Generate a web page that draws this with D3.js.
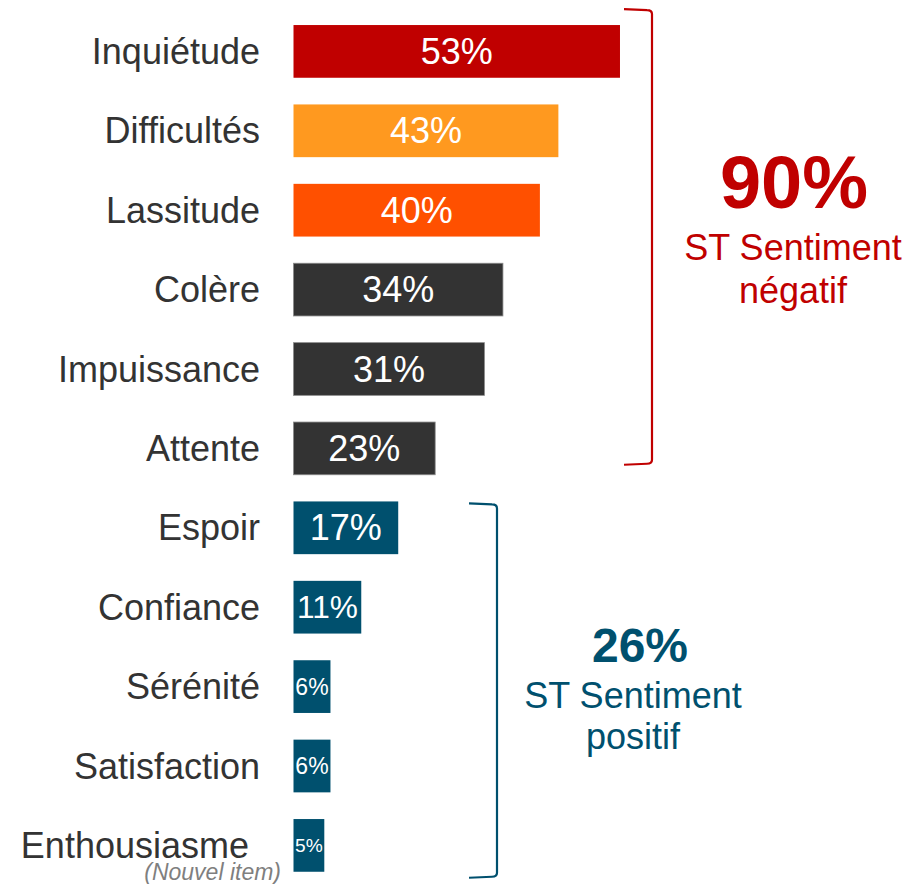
<!DOCTYPE html>
<html>
<head>
<meta charset="utf-8">
<script src="https://cdn.jsdelivr.net/npm/d3@7"></script>
<style>
    body { margin: 0; background: #fff; }
    svg { display: block; font-family: "Liberation Sans", Arial, sans-serif; }
</style>
</head>
<body>
<svg id="chart"></svg>
<script>
// data
const categories = ["Inquiétude", "Difficultés", "Lassitude", "Colère", "Impuissance", "Attente",
    "Espoir", "Confiance", "Sérénité", "Satisfaction", "Enthousiasme"];
const values = [53, 43, 40, 34, 31, 23, 17, 11, 6, 6, 5];
const notes = ["", "", "", "", "", "", "", "", "", "", "(Nouvel item)"];

const groupTotals = ["90%", "26%"];
const groupTitles = [["ST Sentiment", "négatif"], ["ST Sentiment", "positif"]];
const groupFirst = ["Inquiétude", "Espoir"];
const groupLast = ["Attente", "Enthousiasme"];

// styles
const barColors = ["#C00000", "#FF991F", "#FF5000", "#333333", "#333333", "#333333",
    "#00506E", "#00506E", "#00506E", "#00506E", "#00506E"];
const groupColors = ["#C00000", "#00506E"];

const width = 912, height = 884;

let svg = d3.select("#chart")
    .attr("width", width)
    .attr("height", height);

let x = d3.scaleLinear()
    .domain([0, 100])
    .range([293.5, 293.5 + 616]);

let y = d3.scaleBand()
    .domain(categories)
    .range([11.7, 11.7 + 11 * 79.4])
    .paddingInner(0.336)
    .paddingOuter(0.168);

let color = d3.scaleOrdinal().domain(categories).range(barColors);

// bars
svg.append("g")
    .selectAll("rect")
    .data(categories)
    .join("rect")
    .attr("x", x(0))
    .attr("y", d => y(d))
    .attr("width", (d, i) => x(values[i]) - x(0))
    .attr("height", y.bandwidth())
    .attr("fill", d => color(d))
    .attr("stroke", d => color(d) === "#333333" ? "#8a8a8a" : "none")
    .attr("stroke-width", 0.8);

// value labels, shrunk to fit small bars
let vals = svg.append("g")
    .selectAll("text")
    .data(categories)
    .join("text")
    .attr("x", (d, i) => (x(0) + x(values[i])) / 2)
    .attr("y", d => y(d) + y.bandwidth() / 2)
    .attr("dy", "0.35em")
    .attr("text-anchor", "middle")
    .attr("fill", "#fff")
    .style("font-size", "36px")
    .text((d, i) => values[i] + "%");

vals.each(function (d, i) {
    let w = (x(values[i]) - x(0)) * 0.9;
    let len = this.getComputedTextLength();
    if (len > w) {
        d3.select(this).style("font-size", (36 * w / len) + "px");
    }
});

// category labels
svg.append("g")
    .selectAll("text")
    .data(categories)
    .join("text")
    .attr("x", (d, i) => notes[i] ? 249 : 260)
    .attr("y", d => y(d) + y.bandwidth() / 2)
    .attr("dy", "0.35em")
    .attr("text-anchor", "end")
    .attr("fill", "#333333")
    .style("font-size", "36px")
    .text(d => d);

svg.append("g")
    .selectAll("text")
    .data(categories.filter((d, i) => notes[i]))
    .join("text")
    .attr("x", 281)
    .attr("y", d => y(d) + y.bandwidth() + 8)
    .attr("text-anchor", "end")
    .attr("fill", "#7f7f7f")
    .style("font-size", "23px")
    .style("font-style", "italic")
    .text(d => notes[categories.indexOf(d)]);

// brackets
const bracketX = [652, 497];
const bracketTop = [-16, 2];
const bracketBottom = [-10, 6];

groupTotals.forEach((total, g) => {
    let bx = bracketX[g];
    let top = y(groupFirst[g]) + bracketTop[g];
    let bottom = y(groupLast[g]) + y.bandwidth() + bracketBottom[g];
    let path = d3.path();
    path.moveTo(bx - 28, top);
    path.lineTo(bx - 5, top + 1);
    path.quadraticCurveTo(bx, top + 1, bx, top + 5);
    path.lineTo(bx, bottom - 5);
    path.quadraticCurveTo(bx, bottom - 1, bx - 5, bottom - 1);
    path.lineTo(bx - 28, bottom);

    svg.append("path")
        .attr("d", path.toString())
        .attr("fill", "none")
        .attr("stroke", groupColors[g])
        .attr("stroke-width", 2.2);
});

// group totals
const totalX = [794, 640];
const totalY = [208, 662];
const totalSize = [74, 48];
const titleX = [793, 633];
const titleY = [[260, 303], [708, 749]];

groupTotals.forEach((total, g) => {
    svg.append("text")
        .attr("x", totalX[g])
        .attr("y", totalY[g])
        .attr("text-anchor", "middle")
        .attr("fill", groupColors[g])
        .style("font-size", totalSize[g] + "px")
        .style("font-weight", "bold")
        .text(total);

    groupTitles[g].forEach((line, k) => {
        svg.append("text")
            .attr("x", titleX[g])
            .attr("y", titleY[g][k])
            .attr("text-anchor", "middle")
            .attr("fill", groupColors[g])
            .style("font-size", "36px")
            .text(line);
    });
});
</script>
</body>
</html>
